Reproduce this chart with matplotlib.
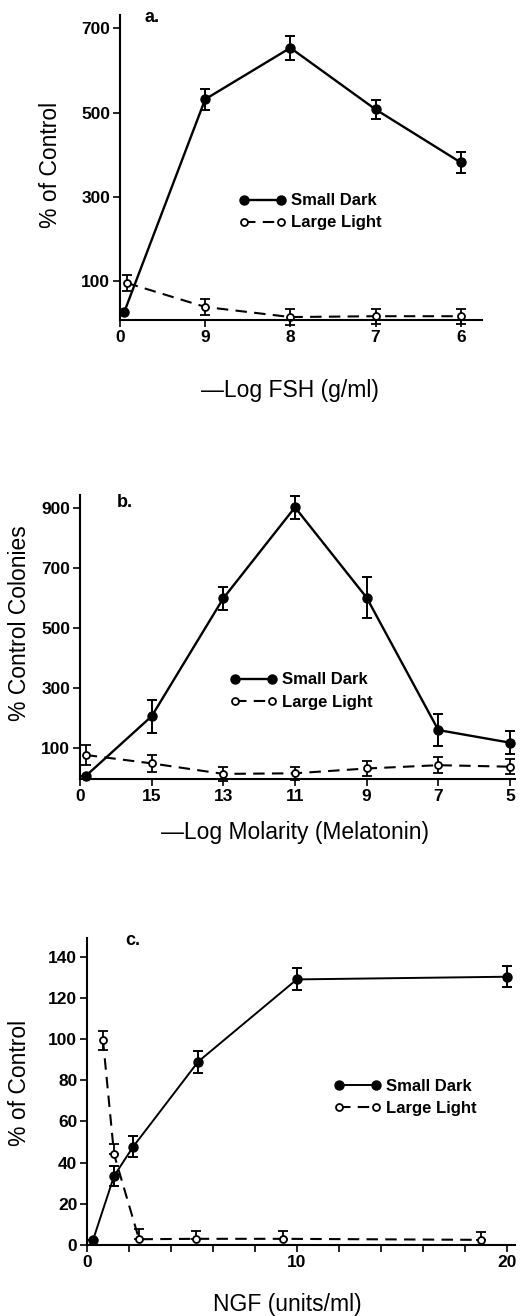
import matplotlib
matplotlib.use("Agg")
import matplotlib.pyplot as plt

plt.rcParams['font.family'] = ['Liberation Sans', 'DejaVu Sans']

# panel a: FSH
a_ticks = ['0', '9', '8', '7', '6']
a_dark_x = [0.05, 1, 2, 3, 4]
a_dark_y = [27, 532, 654, 508, 382]
a_dark_err = [0, 25, 28, 22, 24]
a_light_x = [0.08, 1, 2, 3, 4]
a_light_y = [96, 39, 15, 17, 17]
a_light_err = [19, 19, 18, 18, 18]

# panel b: melatonin
b_ticks = ['0', '15', '13', '11', '9', '7', '5']
b_dark_x = [0.08, 1, 2, 3, 4, 5, 6]
b_dark_y = [8, 207, 600, 903, 602, 161, 119]
b_dark_err = [0, 55, 38, 39, 68, 53, 38]
b_light_x = [0.08, 1, 2, 3, 4, 5, 6]
b_light_y = [78, 50, 15, 17, 33, 44, 39]
b_light_err = [33, 28, 22, 22, 26, 26, 25]

# panel c: NGF
c_dark_x = [0.29, 1.29, 2.2, 5.3, 10.0, 20.0]
c_dark_y = [2.5, 33.5, 47.7, 89, 128.9, 130.2]
c_dark_err = [0, 5, 5, 5.3, 5.3, 5]
c_light_x = [0.76, 1.29, 2.48, 5.19, 9.33, 18.8]
c_light_y = [99.7, 44, 2.8, 3, 3, 2.5]
c_light_lo = [5, 0, 0, 0, 0, 0]
c_light_hi = [4, 5, 5, 4, 4, 4]

fig = plt.figure(figsize=(5.2, 13.16), dpi=100)


def style(ax):
    for s in ['top', 'right']:
        ax.spines[s].set_visible(False)
    for s in ['left', 'bottom']:
        ax.spines[s].set_linewidth(1.5)
    ax.tick_params(direction='out', length=5, width=1.2, labelsize=12.5, pad=2)
    for lab in ax.get_xticklabels() + ax.get_yticklabels():
        lab.set_fontweight('bold')


def draw(ax, dx, dy, de, lx, ly, le, leg_xy, lw_dark=1.7):
    ax.errorbar(dx, dy, yerr=de, color='black', lw=lw_dark, marker='o', ms=6.5,
                capsize=3.5, elinewidth=1.4, capthick=1.4, label='Small Dark', clip_on=False)
    ax.errorbar(lx, ly, yerr=le, color='black', lw=1.5, ls=(0, (5.5, 3.5)), marker='o',
                ms=5, mfc='white', mew=1.3, capsize=3.5, elinewidth=1.3,
                capthick=1.3, label='Large Light', clip_on=False)
    h, l = ax.get_legend_handles_labels()
    h = [x[0] for x in h]
    ax.legend(h, l, loc='upper left', bbox_to_anchor=leg_xy, frameon=False,
              numpoints=2, handlelength=2.8, handletextpad=0.3, labelspacing=0.42,
              borderpad=0, borderaxespad=0, prop={'size': 12, 'weight': 'bold'})


# panel a
ax = fig.add_axes([120 / 520, 1 - 320 / 1316, 362 / 520, 305 / 1316])
draw(ax, a_dark_x, a_dark_y, a_dark_err, a_light_x, a_light_y, a_light_err, (0.33, 0.415))
ax.set_xlim(0, 4.25)
ax.set_ylim(8, 732)
ax.set_xticks(range(len(a_ticks)))
ax.set_xticklabels(a_ticks)
ax.set_yticks([100, 300, 500, 700])
style(ax)
ax.text(0.069, 0.993, 'a.', transform=ax.transAxes, fontsize=13, fontweight='bold',
        ha='left', va='center')
ax.text(-0.193, 0.508, '% of Control', transform=ax.transAxes, rotation=90,
        ha='center', va='center', fontsize=16.5)
ax.text(0.47, -0.23, '\u2014Log FSH (g/ml)', transform=ax.transAxes,
        ha='center', va='center', fontsize=16.5)

# panel b
ax = fig.add_axes([80 / 520, 1 - 779 / 1316, 435 / 520, 284 / 1316])
draw(ax, b_dark_x, b_dark_y, b_dark_err, b_light_x, b_light_y, b_light_err, (0.345, 0.375))
ax.set_xlim(0, 6.07)
ax.set_ylim(-2, 944)
ax.set_xticks(range(len(b_ticks)))
ax.set_xticklabels(b_ticks)
ax.set_yticks([100, 300, 500, 700, 900])
style(ax)
ax.text(0.085, 0.972, 'b.', transform=ax.transAxes, fontsize=13, fontweight='bold',
        ha='left', va='center')
ax.text(-0.138, 0.549, '% Control Colonies', transform=ax.transAxes, rotation=90,
        ha='center', va='center', fontsize=16.5)
ax.text(0.494, -0.19, '\u2014Log Molarity (Melatonin)', transform=ax.transAxes,
        ha='center', va='center', fontsize=16.5)

# panel c
ax = fig.add_axes([87 / 520, 1 - 1245 / 1316, 428 / 520, 307 / 1316])
draw(ax, c_dark_x, c_dark_y, c_dark_err, c_light_x, c_light_y, [c_light_lo, c_light_hi],
     (0.578, 0.54), lw_dark=1.4)
ax.set_xlim(0, 20.4)
ax.set_ylim(0, 149)
ax.set_xticks(range(0, 21, 2))
ax.set_xticklabels(['0', '', '', '', '', '10', '', '', '', '', '20'])
ax.set_yticks(range(0, 141, 20))
style(ax)
ax.text(0.089, 0.993, 'c.', transform=ax.transAxes, fontsize=13, fontweight='bold',
        ha='left', va='center')
ax.text(-0.157, 0.528, '% of Control', transform=ax.transAxes, rotation=90,
        ha='center', va='center', fontsize=16.5)
ax.text(0.467, -0.195, 'NGF (units/ml)', transform=ax.transAxes,
        ha='center', va='center', fontsize=16.5)

fig.savefig('out.png', dpi=100)
